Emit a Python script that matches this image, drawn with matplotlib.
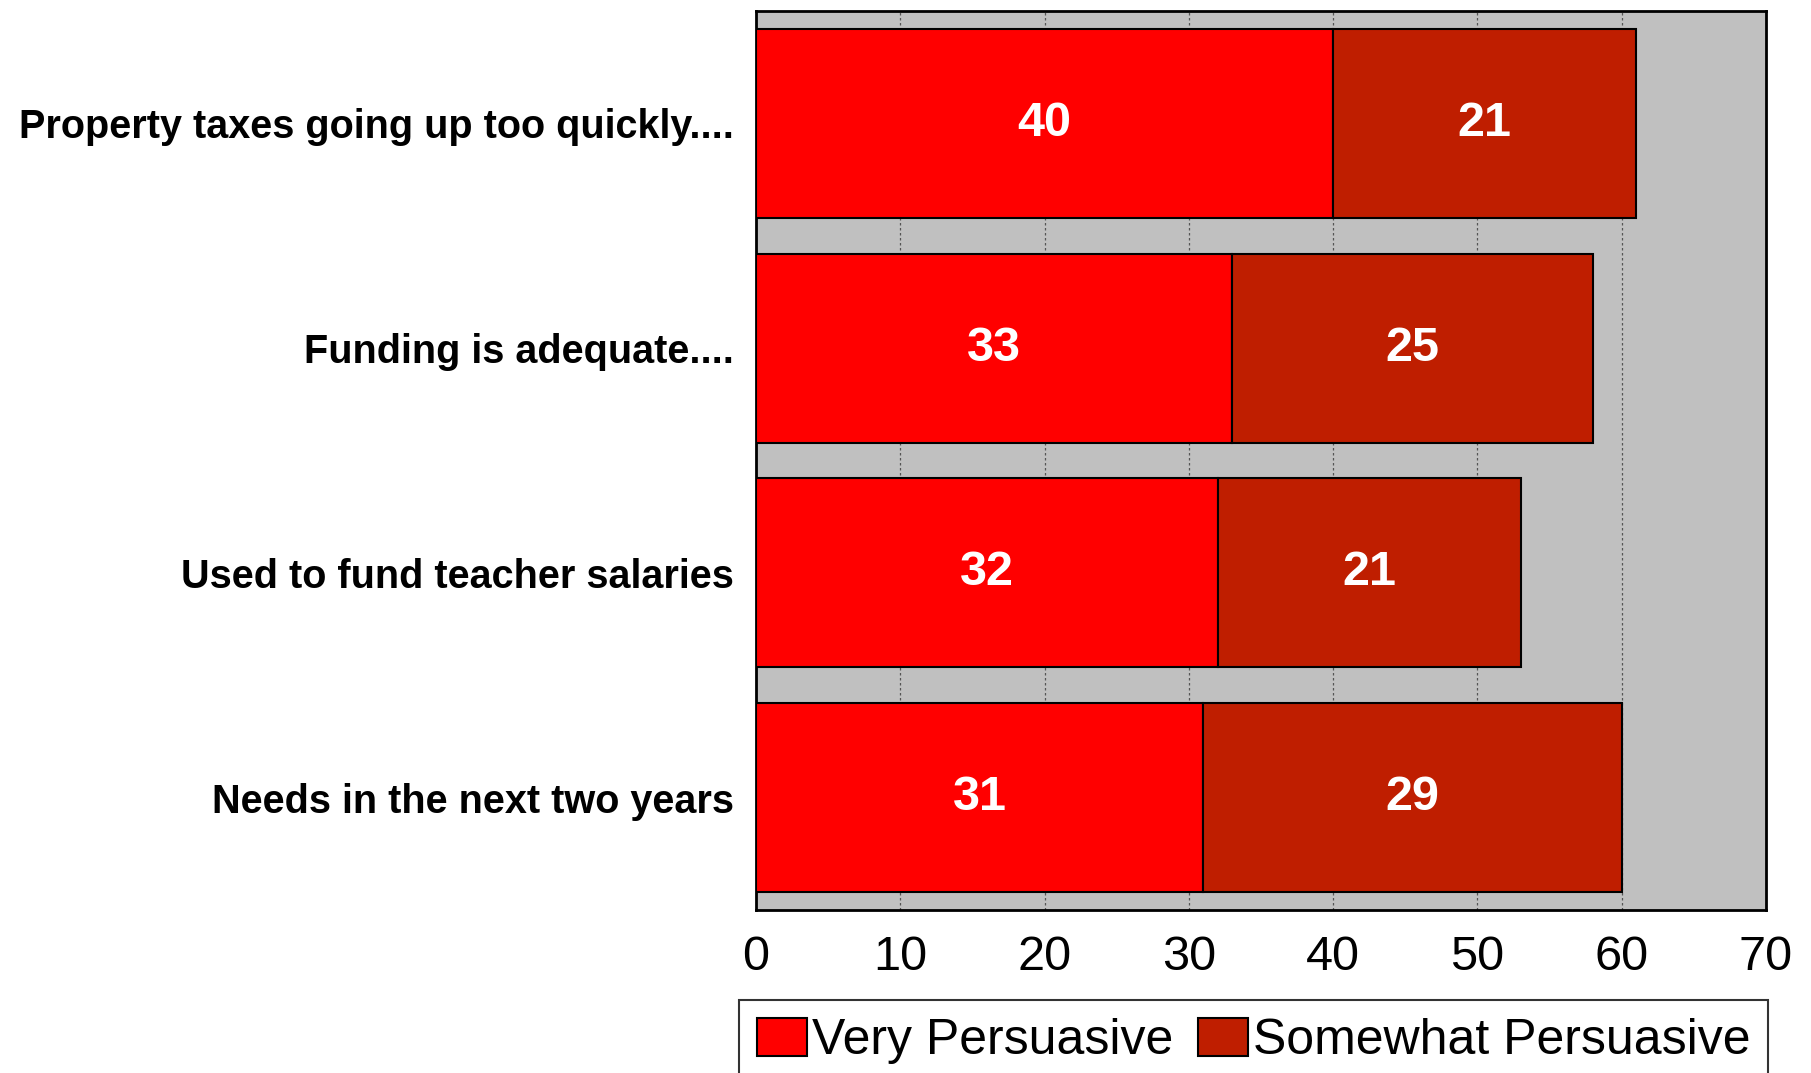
import matplotlib.pyplot as plt
from matplotlib.patches import Patch

categories = ["Property taxes going up too quickly....",
              "Funding is adequate....",
              "Used to fund teacher salaries",
              "Needs in the next two years"]
very = [40, 33, 32, 31]
somewhat = [21, 25, 21, 29]
series_names = ["Very Persuasive", "Somewhat Persuasive"]
colors = ["#FF0000", "#BF1E00"]

plt.rcParams["font.family"] = ["Liberation Sans", "DejaVu Sans"]

fig = plt.figure(figsize=(18.11, 10.73), dpi=100)
ax = fig.add_axes([756 / 1811, 1 - 910 / 1073, 1010 / 1811, 899 / 1073])
ax.set_facecolor("#C0C0C0")

y = list(range(len(categories)))
h = 0.84
ax.barh(y, very, height=h, color=colors[0], edgecolor="black", linewidth=1.5, zorder=3)
ax.barh(y, somewhat, left=very, height=h, color=colors[1], edgecolor="black",
        linewidth=1.5, zorder=3)

for i in y:
    ax.text(very[i] / 2, i, str(very[i]), ha="center", va="center", color="white",
            fontsize=35, fontweight="bold", zorder=4)
    ax.text(very[i] + somewhat[i] / 2, i, str(somewhat[i]), ha="center", va="center",
            color="white", fontsize=35, fontweight="bold", zorder=4)

ax.set_xlim(0, 70)
ax.set_ylim(len(categories) - 0.5, -0.5)
ax.set_xticks(range(0, 71, 10))
ax.set_yticks(y)
ax.set_yticklabels(categories, fontsize=28.5, fontweight="bold")
ax.tick_params(axis="y", length=0, pad=16)
ax.tick_params(axis="x", length=0, pad=18, labelsize=35)
ax.grid(axis="x", color="#555555", linestyle=(0, (2, 2)), linewidth=0.9, zorder=1)
for s in ax.spines.values():
    s.set_linewidth(2)

handles = [Patch(facecolor=c, edgecolor="black", linewidth=1.5) for c in colors]
fig.legend(handles, series_names, loc="upper left",
           bbox_to_anchor=(739 / 1811, 1 - 1000 / 1073), ncol=2, fontsize=36,
           frameon=True, fancybox=False, edgecolor="black", handlelength=1.0,
           handleheight=0.8, handletextpad=0.1, columnspacing=0.5,
           borderpad=0.35, borderaxespad=0)
fig.legends[0].get_frame().set_linewidth(1.5)

fig.savefig("out.png", dpi=100)
